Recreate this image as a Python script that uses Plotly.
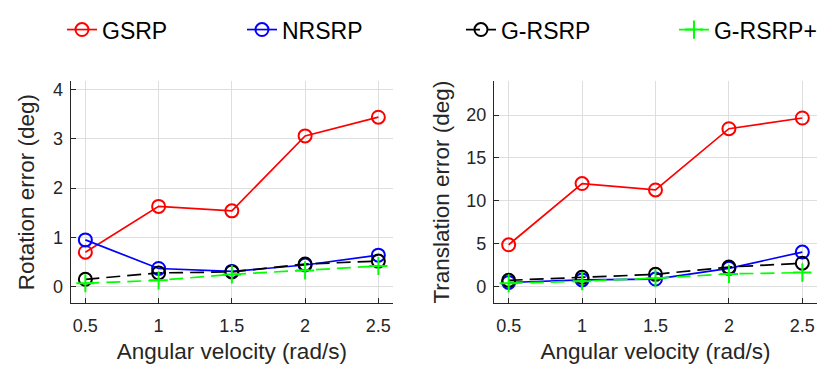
import plotly.graph_objects as go

# angular velocity (rad/s)
velocity = [0.5, 1.0, 1.5, 2.0, 2.5]

# rotation error (deg)
rot_gsrp = [0.70, 1.63, 1.54, 3.06, 3.44]
rot_nrsrp = [0.95, 0.37, 0.31, 0.44, 0.64]
rot_grsrp = [0.15, 0.28, 0.30, 0.46, 0.52]
rot_grsrp_plus = [0.07, 0.13, 0.25, 0.33, 0.42]

# translation error (deg)
tr_gsrp = [4.85, 12.0, 11.25, 18.4, 19.65]
tr_nrsrp = [0.45, 0.75, 0.85, 2.1, 4.0]
tr_grsrp = [0.7, 1.05, 1.4, 2.25, 2.7]
tr_grsrp_plus = [0.35, 0.6, 0.95, 1.45, 1.6]

x_ticks = [0.5, 1, 1.5, 2, 2.5]
x_ticklabels = ["0.5", "1", "1.5", "2", "2.5"]

FONT = "Liberation Sans, Arial, sans-serif"
AX = "#262626"

styles = {
    "GSRP": dict(color="#ff0000", dash="solid", symbol="circle-open"),
    "NRSRP": dict(color="#0000ff", dash="solid", symbol="circle-open"),
    "G-RSRP": dict(color="#000000", dash="14px,7px", symbol="circle-open"),
    "G-RSRP+": dict(color="#00ff00", dash="14px,7px", symbol="cross-thin-open"),
}
legend_ids = {"GSRP": "legend", "NRSRP": "legend2", "G-RSRP": "legend3", "G-RSRP+": "legend4"}

panels = [
    ("x", "y", {"GSRP": rot_gsrp, "NRSRP": rot_nrsrp, "G-RSRP": rot_grsrp, "G-RSRP+": rot_grsrp_plus}),
    ("x2", "y2", {"GSRP": tr_gsrp, "NRSRP": tr_nrsrp, "G-RSRP": tr_grsrp, "G-RSRP+": tr_grsrp_plus}),
]

fig = go.Figure()
for i, (xa, ya, series) in enumerate(panels):
    for name, vals in series.items():
        st = styles[name]
        fig.add_trace(go.Scatter(
            x=velocity, y=vals, name=name, xaxis=xa, yaxis=ya,
            mode="lines+markers",
            line=dict(color=st["color"], width=1.7, dash=st["dash"]),
            marker=dict(symbol=st["symbol"], size=13,
                        line=dict(color=st["color"], width=2)),
            showlegend=(i == 0), legend=legend_ids[name],
        ))

axis_common = dict(
    showline=True, linecolor=AX, linewidth=1, mirror=False,
    ticks="inside", ticklen=5, tickcolor=AX,
    showgrid=True, gridcolor="#dedede", gridwidth=1, zeroline=False,
    tickfont=dict(family=FONT, size=18, color=AX),
    title_font=dict(family=FONT, size=22.5, color=AX),
)

# page body has an 8px margin, so the figure is 8px smaller than the window
W, H = 823, 372
ydom = [0.2097, 0.8199]

fig.update_layout(
    width=W, height=H,
    margin=dict(l=0, r=0, t=0, b=0),
    paper_bgcolor="white", plot_bgcolor="white",
    xaxis=dict(domain=[0.0762, 0.4678], range=[0.4, 2.6], tickvals=x_ticks,
               ticktext=x_ticklabels, ticklabelstandoff=6,
               title=dict(text="Angular velocity (rad/s)", standoff=8),
               anchor="y", **axis_common),
    yaxis=dict(domain=ydom, range=[-0.34, 4.18], tickvals=[0, 1, 2, 3, 4],
               ticklabelstandoff=3,
               title=dict(text="Rotation error (deg)", standoff=12), anchor="x", **axis_common),
    xaxis2=dict(domain=[0.5905, 0.983], range=[0.4, 2.6], tickvals=x_ticks,
                ticktext=x_ticklabels, ticklabelstandoff=6,
                title=dict(text="Angular velocity (rad/s)", standoff=8),
                anchor="y2", **axis_common),
    yaxis2=dict(domain=ydom, range=[-2, 24], tickvals=[0, 5, 10, 15, 20],
                ticklabelstandoff=3,
                title=dict(text="Translation error (deg)", standoff=10), anchor="x2", **axis_common),
)

legend_x = {"legend": 0.0656, "legend2": 0.2843, "legend3": 0.5504, "legend4": 0.8092}
for lid, lx in legend_x.items():
    fig.update_layout({lid: dict(
        x=lx, y=0.96, xanchor="left", yanchor="middle", orientation="h",
        font=dict(family=FONT, size=23, color="#000000"),
        bgcolor="rgba(0,0,0,0)",
    )})

fig.write_html("out.html")
